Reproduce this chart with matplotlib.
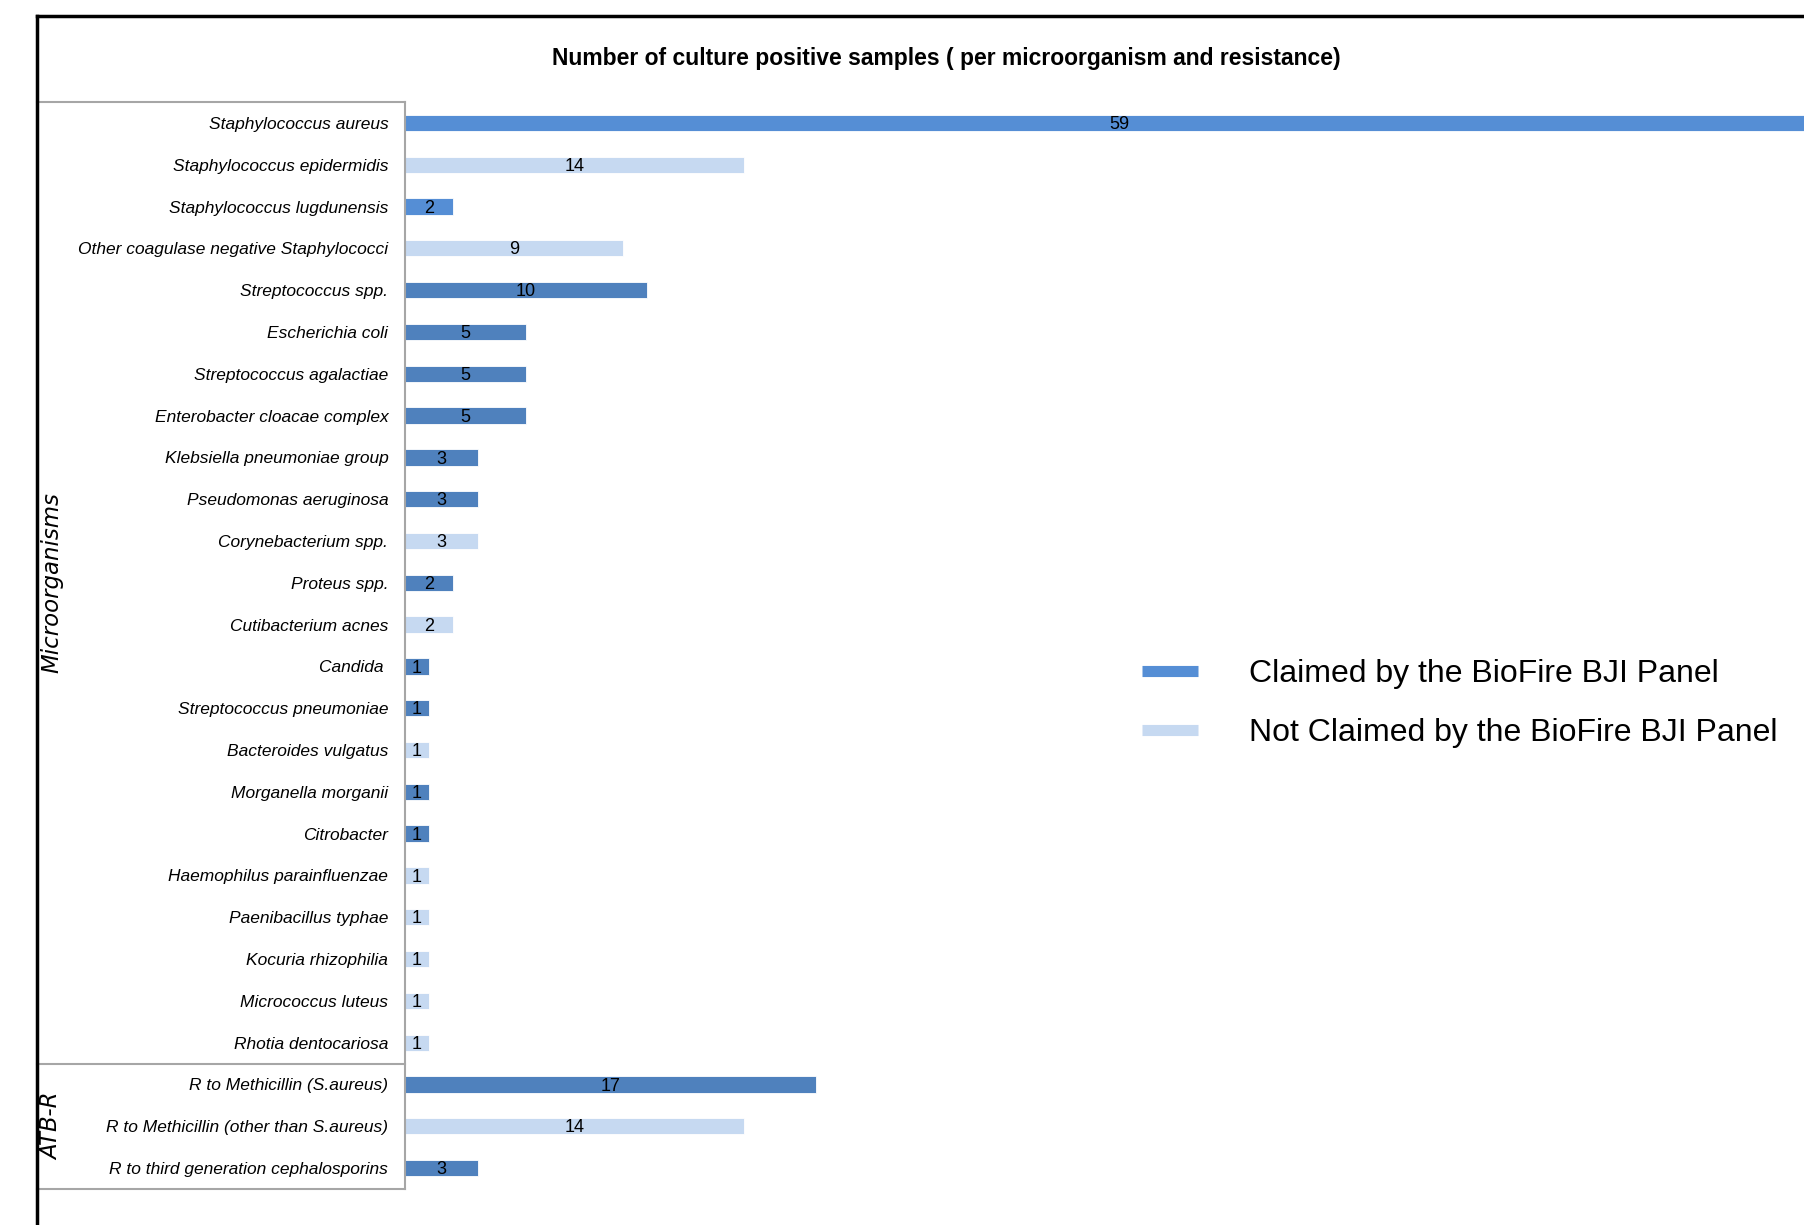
import matplotlib
matplotlib.use('Agg')
import matplotlib.pyplot as plt
import matplotlib.transforms as mtransforms
from matplotlib.lines import Line2D

# 数据
organisms = ['Staphylococcus aureus', 'Staphylococcus epidermidis', 'Staphylococcus lugdunensis',
             'Other coagulase negative Staphylococci', 'Streptococcus spp.', 'Escherichia coli',
             'Streptococcus agalactiae', 'Enterobacter cloacae complex', 'Klebsiella pneumoniae group',
             'Pseudomonas aeruginosa', 'Corynebacterium spp.', 'Proteus spp.', 'Cutibacterium acnes',
             'Candida ', 'Streptococcus pneumoniae', 'Bacteroides vulgatus', 'Morganella morganii',
             'Citrobacter', 'Haemophilus parainfluenzae', 'Paenibacillus typhae', 'Kocuria rhizophilia',
             'Micrococcus luteus', 'Rhotia dentocariosa']
organism_counts = [59, 14, 2, 9, 10, 5, 5, 5, 3, 3, 3, 2, 2, 1, 1, 1, 1, 1, 1, 1, 1, 1, 1]
organism_claimed = [True, False, True, False, True, True, True, True, True, True, False, True, False,
                    True, True, False, True, True, False, False, False, False, False]

resistances = ['R to Methicillin (S.aureus)', 'R to Methicillin (other than S.aureus)',
               'R to third generation cephalosporins']
resistance_counts = [17, 14, 3]
resistance_claimed = [True, False, True]

groups = ['Microorganisms', 'ATB-R']

title = 'Number of culture positive samples ( per microorganism and resistance)'
legend_labels = ['Claimed by the BioFire BJI Panel', 'Not Claimed by the BioFire BJI Panel']

labels = organisms + resistances
counts = organism_counts + resistance_counts
claimed = organism_claimed + resistance_claimed

# 颜色
c_dark = '#4F81BD'
c_bright = '#558ED5'
c_light = '#C6D9F1'
colors = []
for name, cl in zip(labels, claimed):
    if not cl:
        colors.append(c_light)
    elif name.startswith('Staphylococcus'):
        colors.append(c_bright)
    else:
        colors.append(c_dark)

font = ['Liberation Sans', 'DejaVu Sans']

W, H = 1804, 1225
fig = plt.figure(figsize=(W / 100, H / 100), dpi=100)
ax = fig.add_axes([405 / W, 1 - 1189 / H, 1 - 405 / W, (1189 - 102) / H])

y = list(range(len(labels)))
xmax = 57.8
ax.barh(y, counts, height=0.39, color=colors, edgecolor='white', linewidth=0.6)
ax.set_ylim(len(labels) - 0.5, -0.5)
ax.set_xlim(0, xmax)

for yi, v in zip(y, counts):
    ax.text(v / 2, yi + 0.04, str(v), ha='center', va='center', fontsize=13,
            family=font, color='black')

ax.set_yticks(y)
ax.set_yticklabels(labels, fontstyle='italic', fontsize=12.5, family=font)
ax.tick_params(axis='y', length=0, pad=12)
ax.set_xticks([])
for s in ['top', 'right', 'bottom']:
    ax.spines[s].set_visible(False)
ax.spines['left'].set_color('#A6A6A6')
ax.spines['left'].set_linewidth(1.5)

# 标签框
blend = mtransforms.blended_transform_factory(fig.transFigure, ax.transData)
x0, x1 = 37 / W, 405 / W
n_org = len(organisms)
for yy in [-0.5, n_org - 0.5, len(labels) - 0.5]:
    fig.add_artist(Line2D([x0, x1], [yy, yy], transform=blend, color='#A6A6A6', lw=1.5))

ax.text(52 / W, (n_org - 1) / 2, groups[0], transform=blend, rotation=90, ha='center',
        va='center', fontsize=16.5, fontstyle='italic', family='DejaVu Sans')
ax.text(52 / W, n_org + (len(resistances) - 1) / 2, groups[1], transform=blend, rotation=90,
        ha='center', va='center', fontsize=16.5, fontstyle='italic', family='DejaVu Sans')

# 外框
fig.add_artist(Line2D([x0, x0], [0, 1 - 16 / H], color='black', lw=2.5))
fig.add_artist(Line2D([x0, 1], [1 - 16 / H, 1 - 16 / H], color='black', lw=2.5))

fig.text(946 / W, 1 - 58 / H, title, ha='center', va='center', fontsize=16.5,
         fontweight='bold', family=font)

handles = [Line2D([], [], color=c_bright, lw=8, solid_capstyle='butt'),
           Line2D([], [], color=c_light, lw=8, solid_capstyle='butt')]
fig.legend(handles, legend_labels, loc='center left', bbox_to_anchor=(1142 / W, 1 - 703.5 / H),
           frameon=False, prop={'family': 'Liberation Sans', 'size': 23},
           handlelength=1.75, handletextpad=1.6, labelspacing=0.9, borderpad=0, borderaxespad=0)

fig.savefig('out.png', dpi=100)
